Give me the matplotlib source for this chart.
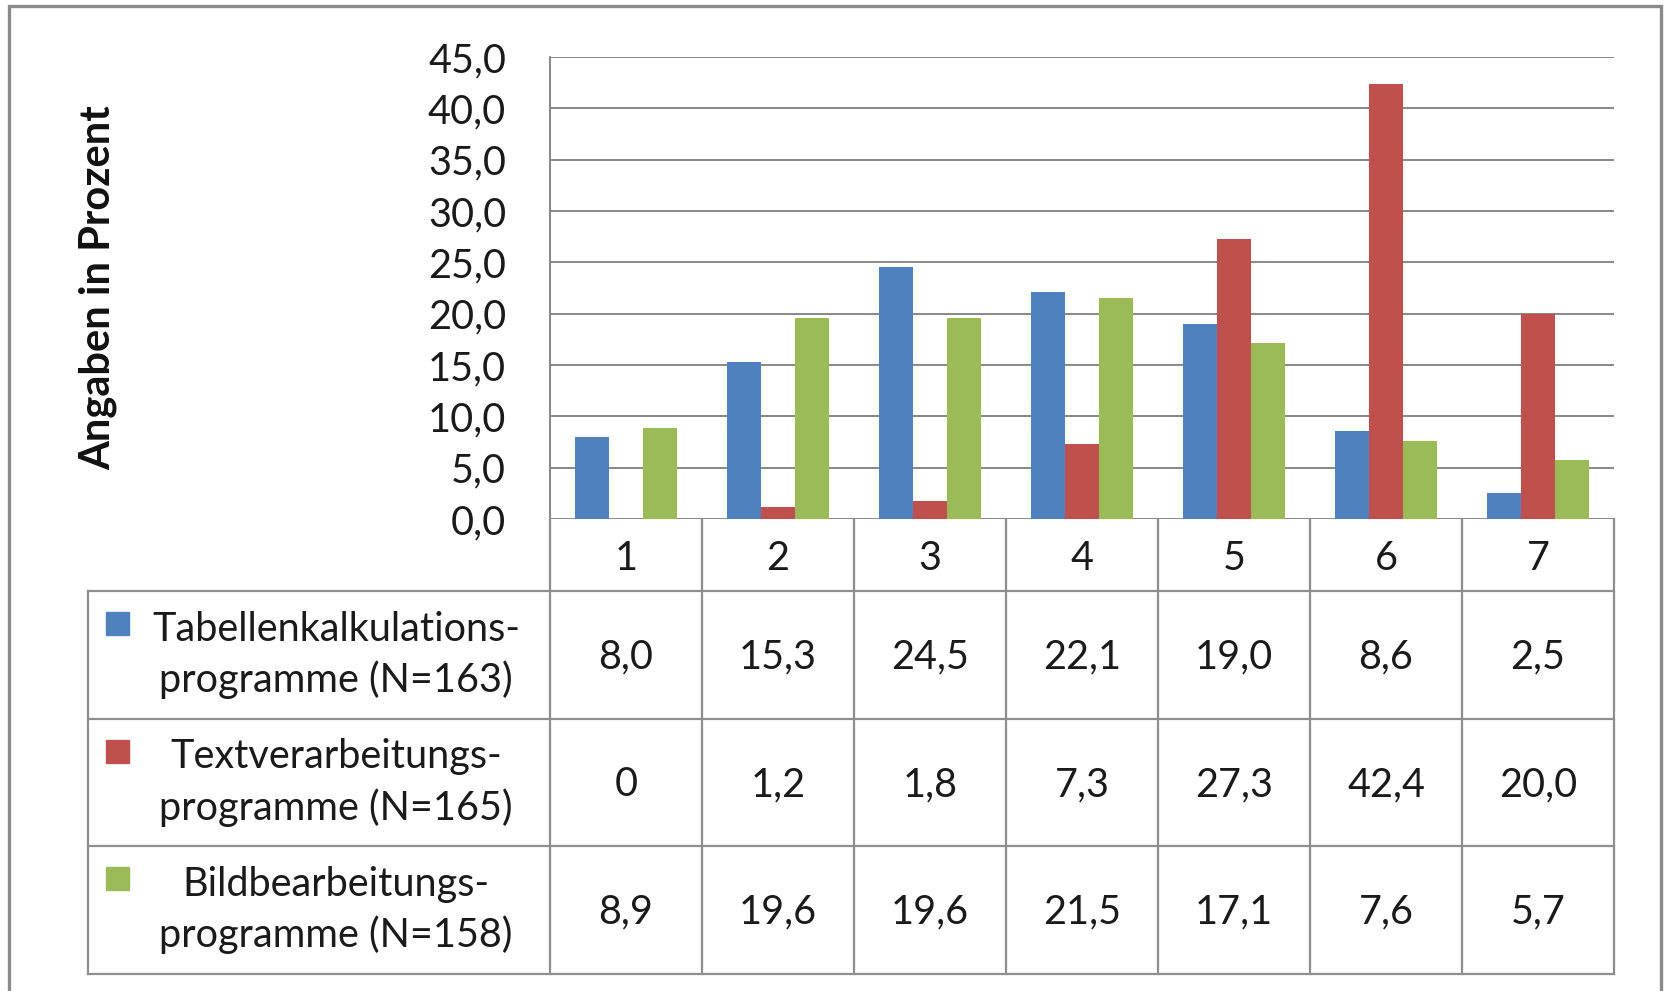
import matplotlib
matplotlib.use("Agg")
import matplotlib.pyplot as plt
from matplotlib.patches import Rectangle

# ---------------- data ----------------
categories = ["1", "2", "3", "4", "5", "6", "7"]
series_names = [
    "Tabellenkalkulations-\nprogramme (N=163)",
    "Textverarbeitungs-\nprogramme (N=165)",
    "Bildbearbeitungs-\nprogramme (N=158)",
]
tabellen = [8.0, 15.3, 24.5, 22.1, 19.0, 8.6, 2.5]
textverarb = [0, 1.2, 1.8, 7.3, 27.3, 42.4, 20.0]
bildbearb = [8.9, 19.6, 19.6, 21.5, 17.1, 7.6, 5.7]
yticks = [0, 5, 10, 15, 20, 25, 30, 35, 40, 45]
ylabel = "Angaben in Prozent"

series = [tabellen, textverarb, bildbearb]
colors = ["#4F81BD", "#C0504D", "#9BBB59"]
grid_c = "#878787"
line_c = "#8E8E8E"
FONT = "Lato"
FS = 28.5

def de(v, zero_plain=False):
    if zero_plain and v == 0:
        return "0"
    return f"{v:.1f}".replace(".", ",")

# ---------------- layout (pixels) ----------------
W, H = 1665, 991
fig = plt.figure(figsize=(W / 100, H / 100), dpi=100)
fig.patch.set_facecolor("white")

def fx(px):
    return px / W

def fy(py):
    return 1 - py / H

PL, PR, PT, PB = 550, 1614, 57, 519
ax = fig.add_axes([fx(PL), fy(PB), fx(PR) - fx(PL), fy(PT) - fy(PB)])

n = len(categories)
x = list(range(n))
bw = 1 / 4.5
for i, (vals, c) in enumerate(zip(series, colors)):
    ax.bar([xi + (i - 1) * bw for xi in x], vals, width=bw, color=c,
           linewidth=0, zorder=3)

ax.set_xlim(-0.5, n - 0.5)
ax.set_ylim(0, 45)
ax.set_yticks(yticks)
ax.set_yticklabels([de(v) for v in yticks], fontsize=FS, family=FONT,
                   color="#1a1a1a")
ax.tick_params(axis="y", length=0, pad=31.5)
ax.set_xticks([])
for v in yticks:
    ax.axhline(v, color=grid_c, lw=1.4, zorder=1)
for s in ["top", "right", "bottom"]:
    ax.spines[s].set_visible(False)
ax.spines["left"].set_color(grid_c)
ax.spines["left"].set_linewidth(1.4)
ax.set_facecolor("none")

fig.text(fx(98), fy(288), ylabel, rotation=90, ha="center", va="center",
         fontsize=30, fontweight="bold", family=FONT, color="#111111")

# ---------------- data table ----------------
TL, TT, TB = 88, 519, 974
left_units = (PL - TL) / ((PR - PL) / n)
tax = fig.add_axes([fx(TL), fy(TB), fx(PR) - fx(TL), fy(TT) - fy(TB)])
tax.set_xlim(-0.5 - left_units, n - 0.5)
tax.set_ylim(TB - TT, 0)
tax.axis("off")

hdr = 72
rowh = (TB - TT - hdr) / 3
xl = -0.5 - left_units
lw = 1.6
for k in range(n + 1):
    tax.plot([k - 0.5, k - 0.5], [0, TB - TT], color=line_c, lw=lw,
             clip_on=False)
tax.plot([xl, xl], [hdr, TB - TT], color=line_c, lw=lw, clip_on=False)
for r in range(4):
    yy = hdr + r * rowh
    tax.plot([xl, n - 0.5], [yy, yy], color=line_c, lw=lw, clip_on=False)

for k, c in enumerate(categories):
    tax.text(k, hdr / 2 + 3, c, ha="center", va="center", fontsize=FS,
             family=FONT, color="#1a1a1a")

px_unit = (PR - PL) / n
for r, (name, vals, c) in enumerate(zip(series_names, series, colors)):
    yc = hdr + r * rowh + rowh / 2
    for k, v in enumerate(vals):
        tax.text(k, yc + 2, de(v, zero_plain=True), ha="center", va="center",
                 fontsize=FS, family=FONT, color="#1a1a1a")
    kx = xl + (106 - TL) / px_unit
    ky = hdr + r * rowh + 21
    tax.add_patch(Rectangle((kx, ky), 23 / px_unit, 23, color=c,
                            clip_on=False))
    tax.text(xl + (336 - TL) / px_unit, yc, name, ha="center",
             va="center", multialignment="center", fontsize=FS,
             family=FONT, color="#1a1a1a", linespacing=1.4)

fig.patches.append(Rectangle((fx(9), fy(1010)), fx(1661) - fx(9),
                             fy(6) - fy(1010), transform=fig.transFigure,
                             fill=False, edgecolor="#8A8A8A", lw=2.4))

fig.savefig("out.png", dpi=100, facecolor="white")
